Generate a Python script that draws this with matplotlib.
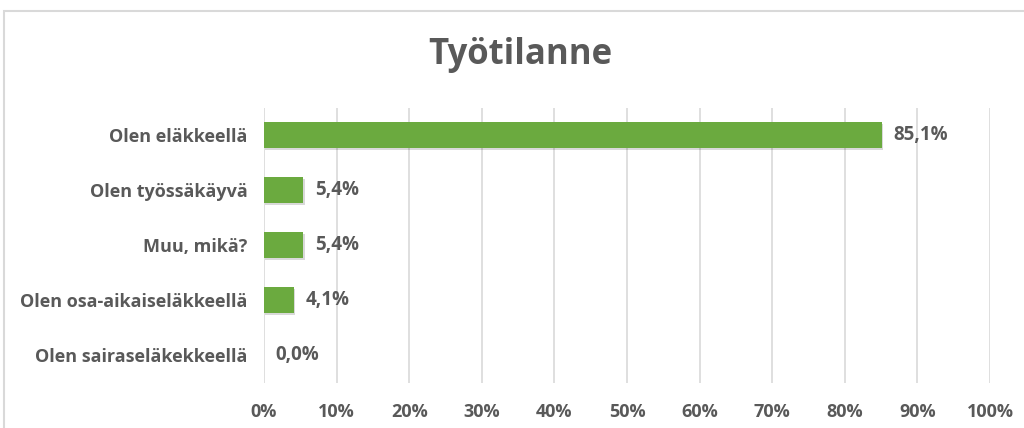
import matplotlib.pyplot as plt
import matplotlib.patheffects as pe
from matplotlib.patches import Rectangle

plt.rcParams['font.family'] = ['Open Sans', 'DejaVu Sans']

categories = ['Olen eläkkeellä', 'Olen työssäkäyvä', 'Muu, mikä?',
              'Olen osa-aikaiseläkkeellä', 'Olen sairaseläkekkeellä']
values = [85.1, 5.4, 5.4, 4.1, 0.0]
ticks = [0, 10, 20, 30, 40, 50, 60, 70, 80, 90, 100]

text_col = '#595959'
fig = plt.figure(figsize=(10.24, 4.28), dpi=100)
fig.patches.append(Rectangle((4 / 1024, -0.1), 1.2, 1 - 11 / 428 + 0.1, transform=fig.transFigure,
                             fill=False, edgecolor='#D9D9D9', linewidth=1.5))

ax = fig.add_axes([264 / 1024, 1 - 382.5 / 428, (990 - 264) / 1024, 275 / 428])
ypos = list(range(len(categories)))
bars = ax.barh(ypos, values, height=0.47, color='#6BAA3F', zorder=3)
for b in bars:
    b.set_path_effects([pe.SimplePatchShadow(offset=(1, -1.5), alpha=0.15, shadow_rgbFace='#000000'), pe.Normal()])

for y, v in zip(ypos, values):
    ax.text(v + 1.6, y, f'{v:.1f}%'.replace('.', ','), va='center', ha='left',
            fontsize=13.5, fontweight='bold', color=text_col)

ax.set_xlim(0, 100)
ax.set_ylim(len(categories) - 0.5, -0.5)
ax.set_xticks(ticks)
ax.set_xticklabels([f'{t}%' for t in ticks])
ax.set_yticks(ypos)
ax.set_yticklabels(categories)
ax.tick_params(length=0, labelsize=13, labelcolor=text_col)
ax.tick_params(axis='x', pad=15)
ax.tick_params(axis='y', pad=12)
for lab in ax.get_xticklabels() + ax.get_yticklabels():
    lab.set_fontweight('bold')
ax.grid(axis='x', color='#D9D9D9', linewidth=1.2, zorder=0)
for s in ax.spines.values():
    s.set_visible(False)

fig.text(520 / 1024, 1 - 55 / 428, 'Työtilanne', ha='center', va='center',
         fontsize=25, fontweight='bold', color=text_col)

fig.savefig('out.png', dpi=100)
